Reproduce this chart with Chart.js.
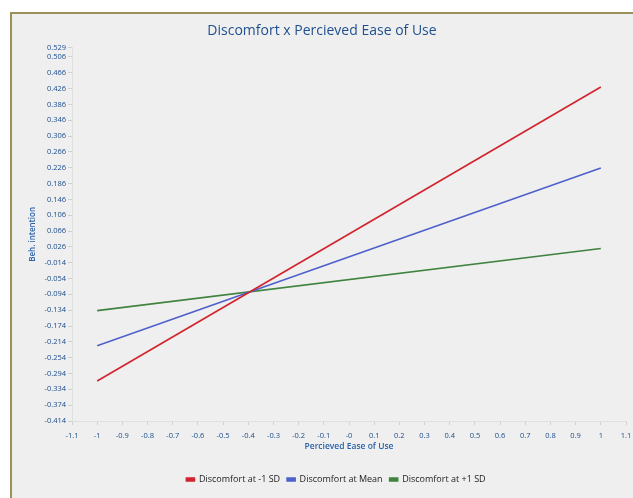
<!DOCTYPE html>
<html>
<head>
<meta charset="utf-8">
<script src="https://cdn.jsdelivr.net/npm/chart.js@4"></script>
<style>
  body { margin: 0; background: #fff; }
  #frame {
    position: absolute; left: 10px; top: 12px;
    width: 621px; height: 484px;
    border-left: 2px solid #9b8f5c; border-top: 2px solid #9b8f5c;
    background: #efefef;
  }
  canvas { display: block; }
</style>
</head>
<body>
<div id="frame"><canvas id="chart" width="621" height="484"></canvas></div>
<script>
const xValues = [-1, 1];
const lowSD = [-0.313, 0.430];
const meanSD = [-0.224, 0.225];
const highSD = [-0.135, 0.022];
const seriesNames = ['Discomfort at -1 SD', 'Discomfort at Mean', 'Discomfort at +1 SD'];
const seriesColors = ['#d2232e', '#4d60cc', '#3f833f'];

const yTicks = [0.529, 0.506, 0.466, 0.426, 0.386, 0.346, 0.306, 0.266, 0.226, 0.186,
    0.146, 0.106, 0.066, 0.026, -0.014, -0.054, -0.094, -0.134, -0.174, -0.214,
    -0.254, -0.294, -0.334, -0.374, -0.414];
const xTicks = [-1.1, -1, -0.9, -0.8, -0.7, -0.6, -0.5, -0.4, -0.3, -0.2, -0.1, 0,
    0.1, 0.2, 0.3, 0.4, 0.5, 0.6, 0.7, 0.8, 0.9, 1, 1.1];
const xTickLabels = ['-1.1', '-1', '-0.9', '-0.8', '-0.7', '-0.6', '-0.5', '-0.4', '-0.3', '-0.2', '-0.1', '-0',
    '0.1', '0.2', '0.3', '0.4', '0.5', '0.6', '0.7', '0.8', '0.9', '1', '1.1'];

Chart.defaults.font.family = '"Open Sans", "Noto Sans", sans-serif';

function toPoints(ys) {
    return xValues.map((x, i) => ({ x: x, y: ys[i] }));
}

const datasets = [lowSD, meanSD, highSD].map((ys, i) => ({
    label: seriesNames[i],
    data: toPoints(ys),
    borderColor: seriesColors[i],
    backgroundColor: seriesColors[i],
    borderWidth: 1.6,
    pointRadius: 0,
    tension: 0
}));

// legend in the original is centred under the plot, not the whole canvas
const shiftLegend = {
    id: 'shiftLegend',
    afterLayout(chart) {
        chart.legend.left += 14;
        chart.legend.right += 14;
    }
};

const ctx = document.getElementById('chart').getContext('2d');
new Chart(ctx, {
    type: 'line',
    data: { datasets: datasets },
    plugins: [shiftLegend],
    options: {
        responsive: false,
        animation: false,
        layout: { padding: { left: 6, right: 7, bottom: 4 } },
        plugins: {
            title: {
                display: true,
                text: 'Discomfort x Percieved Ease of Use',
                color: '#1f4f8f',
                font: { size: 14, weight: 'normal' },
                padding: { top: 9, bottom: 8 }
            },
            legend: {
                position: 'bottom',
                labels: {
                    color: '#222',
                    font: { size: 9 },
                    boxWidth: 8,
                    boxHeight: 3,
                    padding: 7
                }
            },
            tooltip: { enabled: false }
        },
        scales: {
            x: {
                type: 'linear',
                min: -1.1,
                max: 1.1,
                afterBuildTicks: axis => { axis.ticks = xTicks.map(v => ({ value: v })); },
                afterFit: axis => {
                    axis.height = 47;
                    axis.paddingLeft = 0;
                    axis.paddingRight = 0;
                },
                ticks: {
                    autoSkip: false,
                    maxRotation: 0,
                    color: '#1a4c8c',
                    font: { size: 7.5 },
                    padding: 6,
                    callback: (value, index) => xTickLabels[index]
                },
                grid: { drawOnChartArea: false, tickLength: 4, color: '#d0d0d0' },
                border: { color: '#e0e0e0' },
                title: {
                    display: true,
                    text: 'Percieved Ease of Use',
                    color: '#2a62aa',
                    font: { size: 8.5, weight: '600' },
                    padding: { top: 4, bottom: 16 }
                }
            },
            y: {
                type: 'linear',
                min: -0.414,
                max: 0.529,
                afterBuildTicks: axis => { axis.ticks = yTicks.map(v => ({ value: v })); },
                afterFit: axis => { axis.width = 54; },
                ticks: {
                    autoSkip: false,
                    color: '#1a4c8c',
                    font: { size: 7.5 },
                    padding: 2,
                    callback: value => value.toFixed(3)
                },
                grid: { drawOnChartArea: false, tickLength: 4, color: '#d0d0d0' },
                border: { color: '#e0e0e0' },
                title: {
                    display: true,
                    text: 'Beh. intention',
                    color: '#2a62aa',
                    font: { size: 8, weight: '600' },
                    padding: { top: 10, bottom: 2 }
                }
            }
        }
    }
});
</script>
</body>
</html>
